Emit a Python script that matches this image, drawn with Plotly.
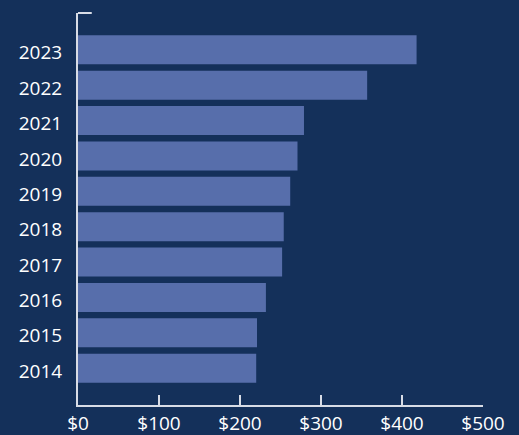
import plotly.graph_objects as go

years = ["2014", "2015", "2016", "2017", "2018", "2019", "2020", "2021", "2022", "2023"]
values = [220, 221, 232, 252, 254, 262, 271, 279, 357, 418]
x_ticks = [0, 100, 200, 300, 400, 500]
x_tick_labels = ["$0", "$100", "$200", "$300", "$400", "$500"]

BG = "#14305a"
BAR = "#576eab"
AXIS = "#d8dce6"
TEXT = "#ffffff"
FONT = "Open Sans"
FS = 19

fig = go.Figure(
    go.Bar(
        x=values,
        y=years,
        orientation="h",
        marker=dict(color=BAR, line=dict(width=0)),
    )
)

fig.update_layout(
    width=519,
    height=435,
    paper_bgcolor=BG,
    plot_bgcolor=BG,
    margin=dict(l=78, r=36, t=13, b=30, autoexpand=False),
    bargap=0.18,
    showlegend=False,
    font=dict(family=FONT, size=FS, color=TEXT),
    xaxis=dict(
        range=[0, 500],
        tickvals=x_ticks,
        ticktext=x_tick_labels,
        showgrid=False,
        zeroline=False,
        showline=True,
        linecolor=AXIS,
        linewidth=2,
        ticks="inside",
        ticklen=10,
        tickwidth=1.5,
        tickcolor=AXIS,
        automargin=False,
        ticklabelstandoff=0,
        tickfont=dict(family=FONT, size=FS, color=TEXT),
    ),
    yaxis=dict(
        type="category",
        categoryorder="array",
        categoryarray=years,
        range=[-1.04, 10.04],
        showgrid=False,
        zeroline=False,
        showline=True,
        linecolor=AXIS,
        linewidth=2,
        ticks="",
        automargin=False,
        ticklabelstandoff=10,
        ticklabelshift=3,
        tickfont=dict(family=FONT, size=FS, color=TEXT),
    ),
    shapes=[
        dict(type="line", xref="paper", yref="paper", x0=0, x1=0.034, y0=1, y1=1,
             line=dict(color=AXIS, width=2)),
    ],
)

fig.write_html(
    "out.html",
    config={"displayModeBar": False},
    post_script="document.body.style.margin='0';document.body.style.background='" + BG + "';",
)
